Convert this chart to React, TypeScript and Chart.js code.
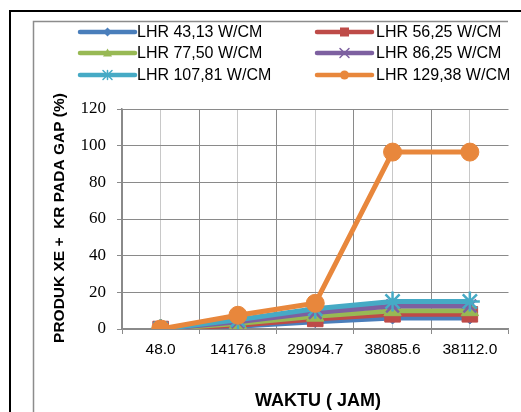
import React, { useEffect, useRef } from "react";
import { Chart, registerables } from "chart.js";

Chart.register(...registerables);

const categories = ["48.0", "14176.8", "29094.7", "38085.6", "38112.0"];
const seriesNames = [
  "LHR 43,13 W/CM",
  "LHR 56,25 W/CM",
  "LHR 77,50 W/CM",
  "LHR 86,25 W/CM",
  "LHR 107,81 W/CM",
  "LHR 129,38 W/CM",
];
const lhr4313 = [0, 1.5, 4, 6, 6];
const lhr5625 = [0, 2, 5.5, 8, 8];
const lhr7750 = [0, 3, 7, 10, 10];
const lhr8625 = [0, 4, 9, 12.5, 12.5];
const lhr10781 = [0, 5, 11, 15, 15];
const lhr12938 = [0, 7.5, 14, 96.5, 96.5];
const yTicks = [0, 20, 40, 60, 80, 100, 120];

const colors = ["#4A7EBB", "#BE4B48", "#98B954", "#7D60A0", "#46AAC5", "#E8873C"];
const styles = ["rectRot", "rect", "triangle", "crossRot", "star", "circle"];
const radii = [6, 11, 10, 9, 10, 9];

function drawMarker(ctx: CanvasRenderingContext2D, style: string, x: number, y: number, r: number) {
  ctx.beginPath();
  if (style === "circle") {
    ctx.arc(x, y, r, 0, Math.PI * 2);
    ctx.fill();
  } else if (style === "rect") {
    ctx.fillRect(x - r, y - r, 2 * r, 2 * r);
  } else if (style === "rectRot") {
    ctx.moveTo(x, y - r);
    ctx.lineTo(x + r, y);
    ctx.lineTo(x, y + r);
    ctx.lineTo(x - r, y);
    ctx.closePath();
    ctx.fill();
  } else if (style === "triangle") {
    ctx.moveTo(x, y - r);
    ctx.lineTo(x + r, y + r * 0.8);
    ctx.lineTo(x - r, y + r * 0.8);
    ctx.closePath();
    ctx.fill();
  } else if (style === "crossRot") {
    ctx.moveTo(x - r, y - r);
    ctx.lineTo(x + r, y + r);
    ctx.moveTo(x + r, y - r);
    ctx.lineTo(x - r, y + r);
    ctx.stroke();
  } else if (style === "star") {
    ctx.moveTo(x - r, y - r);
    ctx.lineTo(x + r, y + r);
    ctx.moveTo(x + r, y - r);
    ctx.lineTo(x - r, y + r);
    ctx.moveTo(x, y - r);
    ctx.lineTo(x, y + r);
    ctx.stroke();
  }
}

const frameAndLegend = {
  id: "frameAndLegend",
  beforeDraw(chart: any) {
    const ctx = chart.ctx;
    ctx.save();
    ctx.fillStyle = "#ffffff";
    ctx.fillRect(0, 0, chart.width, chart.height);
    ctx.strokeStyle = "#000000";
    ctx.lineWidth = 2;
    ctx.beginPath();
    ctx.moveTo(10, 412);
    ctx.lineTo(10, 11);
    ctx.lineTo(521, 11);
    ctx.stroke();
    ctx.strokeStyle = "#8c8c8c";
    ctx.lineWidth = 1.5;
    ctx.beginPath();
    ctx.moveTo(33.5, 412);
    ctx.lineTo(33.5, 21.5);
    ctx.lineTo(508, 21.5);
    ctx.stroke();
    ctx.restore();
  },
  afterDraw(chart: any) {
    const ctx = chart.ctx;
    ctx.save();
    const cols = [80, 317];
    const textX = [137, 376];
    const rows = [32, 53, 75];
    chart.data.datasets.forEach((ds: any, i: number) => {
      const x = cols[i % 2];
      const y = rows[Math.floor(i / 2)];
      ctx.strokeStyle = ds.borderColor;
      ctx.lineWidth = 4.5;
      ctx.lineCap = "round";
      ctx.beginPath();
      ctx.moveTo(x, y);
      ctx.lineTo(x + 55, y);
      ctx.stroke();
      ctx.fillStyle = ds.borderColor;
      ctx.lineWidth = 1.5;
      drawMarker(ctx, ds.pointStyle, x + 27.5, y, 4.5);
      ctx.fillStyle = "#000000";
      ctx.font = "16px 'Liberation Sans', Arial, sans-serif";
      ctx.textBaseline = "middle";
      ctx.textAlign = "left";
      ctx.fillText(seriesNames[i], textX[i % 2], y + 1);
    });
    ctx.font = "bold 18px 'Liberation Sans', Arial, sans-serif";
    ctx.textAlign = "center";
    ctx.textBaseline = "middle";
    ctx.fillText("WAKTU ( JAM)", 318, 401);
    ctx.font = "bold 15.5px 'Liberation Sans', Arial, sans-serif";
    ctx.translate(60, 218);
    ctx.rotate(-Math.PI / 2);
    ctx.fillText("PRODUK XE +  KR PADA GAP (%)", 0, 0);
    ctx.restore();
  },
};

export default function App() {
  const ref = useRef<HTMLCanvasElement | null>(null);
  useEffect(() => {
    if (!ref.current) return;
    const all = [lhr4313, lhr5625, lhr7750, lhr8625, lhr10781, lhr12938];
    const chart = new Chart(ref.current, {
      type: "line",
      data: {
        datasets: all.map((vals, i) => ({
          label: seriesNames[i],
          data: vals.map((v, j) => ({ x: j, y: v })),
          borderColor: colors[i],
          backgroundColor: colors[i],
          borderWidth: 5,
          pointStyle: styles[i] as any,
          pointRadius: radii[i],
          pointBorderWidth: i === 3 || i === 4 ? 2.5 : 1,
          pointBorderColor: colors[i],
          pointBackgroundColor: colors[i],
          order: 5 - i,
          tension: 0,
        })),
      },
      plugins: [frameAndLegend],
      options: {
        responsive: false,
        animation: false,
        events: [],
        layout: { padding: { left: 0, right: 11, top: 109, bottom: 0 } },
        plugins: { legend: { display: false }, tooltip: { enabled: false } },
        scales: {
          x: {
            type: "linear",
            min: -0.5,
            max: 4.5,
            afterFit: (s: any) => {
              s.height = 83;
            },
            afterBuildTicks: (s: any) => {
              const t = [];
              for (let v = -0.5; v <= 4.51; v += 0.5) t.push({ value: Math.round(v * 10) / 10 });
              s.ticks = t;
            },
            grid: {
              color: (c: any) => {
                if (!c.tick) return "#8a8a8a";
                if (c.tick.value === 4.5) return "rgba(0,0,0,0)";
                return Number.isInteger(c.tick.value) ? "#c8c8c8" : "#8a8a8a";
              },
              tickColor: (c: any) =>
                c.tick && Number.isInteger(c.tick.value) ? "rgba(0,0,0,0)" : "#8a8a8a",
              tickLength: 5,
              lineWidth: 1,
            },
            border: { color: "#8a8a8a", width: 1.5 },
            ticks: {
              autoSkip: false,
              maxRotation: 0,
              padding: 6,
              color: "#000000",
              font: { family: "'Liberation Sans', Arial, sans-serif", size: 15.5 },
              callback: (v: any) => (Number.isInteger(v) ? categories[v] : ""),
            },
          },
          y: {
            min: 0,
            max: 120,
            afterFit: (s: any) => {
              s.width = 122;
            },
            afterBuildTicks: (s: any) => {
              s.ticks = yTicks.map((v) => ({ value: v }));
            },
            grid: { color: "#8a8a8a", tickColor: "#8a8a8a", tickLength: 5, lineWidth: 1 },
            border: { color: "#8a8a8a", width: 1.5 },
            ticks: {
              padding: 11,
              color: "#000000",
              font: { family: "'Liberation Serif', 'Times New Roman', serif", size: 17 },
            },
          },
        },
      },
    });
    return () => chart.destroy();
  }, []);
  return (
    <div style={{ position: "fixed", left: 0, top: 0, width: 521, height: 412, background: "#fff" }}>
      <canvas ref={ref} width={521} height={412} style={{ display: "block" }} />
    </div>
  );
}
